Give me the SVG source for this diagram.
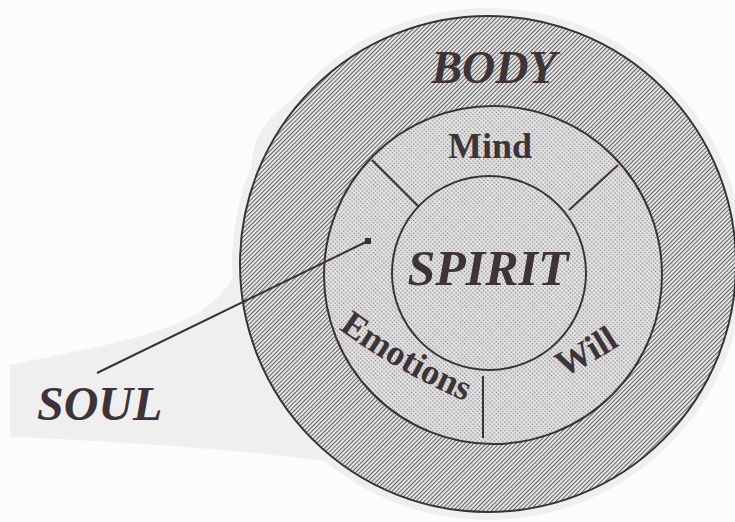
<svg xmlns="http://www.w3.org/2000/svg" width="735" height="522" viewBox="0 0 735 522">
  <defs>
    <pattern id="hatch" width="3" height="3" patternUnits="userSpaceOnUse" patternTransform="rotate(45)">
      <rect width="3" height="3" fill="#ececec"/>
      <rect width="1.1" height="3" fill="#626262"/>
    </pattern>
    <pattern id="stipple" width="3" height="3" patternUnits="userSpaceOnUse" patternTransform="rotate(45)">
      <rect width="3" height="3" fill="#e4e4e4"/>
      <circle cx="1.5" cy="1.5" r="0.8" fill="#848484"/>
    </pattern>
    <path id="emoPath" d="M 329 322 Q 395 372 476 406"/>
    <path id="willPath" d="M 548 384 Q 590 366 634 336"/>
  </defs>
  <style>
    .ln { stroke: #3c3236; stroke-width: 2; }
    .nf { fill: none; }
    .tx { fill: #3e3438; font-family: "Liberation Serif", "Times New Roman", serif; font-weight: bold; }
    .it { font-style: italic; }
  </style>
  <rect width="735" height="522" fill="#fcfcfc"/>
  <g id="background">
    <circle cx="488" cy="264" r="256" fill="#efefef"/>
    <path d="M 300 95 C 270 115 256 130 252 160 L 246 235 C 241 272 230 290 200 312 C 160 335 110 345 10 365 L 10 437 C 100 440 250 450 330 462 L 360 300 Z" fill="#efefef"/>
  </g>
  <g id="body">
    <circle cx="488" cy="264" r="248" fill="url(#hatch)" class="ln"/>
    <text class="tx it" x="494" y="83" font-size="46" text-anchor="middle">BODY</text>
  </g>
  <g id="soul-ring">
    <circle cx="493" cy="275" r="169" fill="url(#stipple)" class="ln"/>
  </g>
  <g id="spirit">
    <circle cx="489" cy="273" r="97" fill="url(#stipple)" class="ln"/>
    <text class="tx it" x="488" y="285" font-size="50" text-anchor="middle">SPIRIT</text>
  </g>
  <g id="connectors">
    <line class="ln nf" x1="372" y1="160" x2="419" y2="207"/>
    <line class="ln nf" x1="618" y1="165" x2="569" y2="210"/>
    <line class="ln nf" x1="483" y1="376" x2="483" y2="438"/>
    <line class="ln nf" x1="97" y1="373" x2="368" y2="241"/>
    <rect x="365" y="238" width="6" height="6" fill="#3c3236"/>
  </g>
  <g id="mind">
    <text class="tx" x="490" y="158" font-size="36" text-anchor="middle">Mind</text>
  </g>
  <g id="emotions">
    <text class="tx" font-size="36"><textPath href="#emoPath" startOffset="50%" text-anchor="middle">Emotions</textPath></text>
  </g>
  <g id="will">
    <text class="tx" font-size="36"><textPath href="#willPath" startOffset="50%" text-anchor="middle">Will</textPath></text>
  </g>
  <g id="soul">
    <text class="tx it" x="37" y="420" font-size="48">SOUL</text>
  </g>
</svg>
